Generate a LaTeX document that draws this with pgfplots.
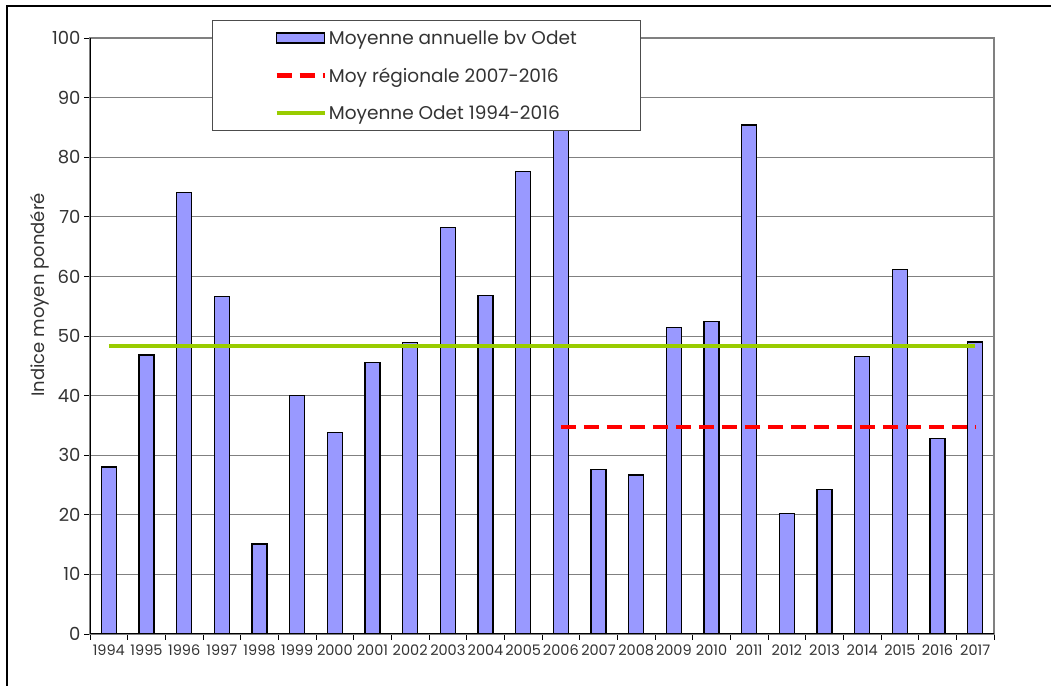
\documentclass[border=0pt]{standalone}
\usepackage{pgfplots}
\pgfplotsset{compat=1.18}
\usepackage{fontspec}
\setmainfont{Poppins}
\definecolor{barc}{HTML}{9999FF}
\definecolor{greenl}{HTML}{99CC00}
\definecolor{txt}{HTML}{333333}
\begin{document}
\begin{tikzpicture}[x=1bp,y=1bp]
\useasboundingbox (0,0) rectangle (1051,686);
\draw[black, line width=1.2bp] (7,0) -- (7,680) -- (1051,680);
\begin{axis}[
  at={(90bp,52bp)}, anchor=south west,
  scale only axis, width=904bp, height=596bp,
  xmin=-0.5, xmax=23.5, ymin=0, ymax=100,
  ytick={0,10,...,100},
  xtick={0,...,23},
  xticklabels={1994,1995,1996,1997,1998,1999,2000,2001,2002,2003,2004,2005,2006,2007,2008,2009,2010,2011,2012,2013,2014,2015,2016,2017},
  minor xtick={-0.5,0.5,...,23.5},
  major x tick style={draw=none},
  xtick pos=bottom, ytick pos=left,
  tick align=outside,
  major tick length=6bp, minor tick length=6bp,
  tick style={black, line width=0.8bp},
  ymajorgrids,
  grid style={gray, line width=0.9bp},
  axis line style={draw=gray, line width=1.2bp},
  /pgf/number format/assume math mode=true,
  yticklabel style={font=\fontsize{18bp}{20bp}\selectfont, text=txt},
  xticklabel style={font=\fontsize{14.5bp}{16bp}\selectfont, text=txt, yshift=-1bp},
  ylabel={Indice moyen pondéré},
  ylabel style={font=\fontsize{18bp}{20bp}\selectfont, text=txt,
    at={(axis description cs:-0.055,0.569)}, anchor=center},
  legend style={at={(axis description cs:0.135,1.03)}, anchor=north west,
    draw=black!70, line width=0.8bp, fill=white,
    inner xsep=62bp, inner ysep=8bp, row sep=18bp,
    font=\fontsize{18.5bp}{22bp}\selectfont, text=txt,
    legend cell align=left},
]
\addplot[ybar, bar width=15bp, fill=barc, draw=black, line width=1.3bp,
  legend image code/.code={\draw[fill=barc, draw=black, line width=1.3bp] (0bp,-5bp) rectangle (48bp,5bp);}]
  coordinates {
  (0,28.0) (1,46.8) (2,74.1) (3,56.6) (4,15.1) (5,40.0) (6,33.8) (7,45.6)
  (8,48.9) (9,68.2) (10,56.8) (11,77.6) (12,87.0) (13,27.6) (14,26.7) (15,51.4)
  (16,52.4) (17,85.4) (18,20.2) (19,24.3) (20,46.6) (21,61.2) (22,32.8) (23,49.0)};
\addlegendentry{Moyenne annuelle bv Odet}
\addplot[red, line width=4.5bp, dash pattern=on 15bp off 8bp, sharp plot,
  legend image code/.code={\draw[red, line width=4.5bp, dash pattern=on 15bp off 8bp] (0bp,0bp) -- (48bp,0bp);}]
  coordinates {(12,34.7) (23,34.7)};
\addlegendentry{Moy régionale 2007-2016}
\addplot[greenl, line width=4.5bp, sharp plot,
  legend image code/.code={\draw[greenl, line width=4.5bp] (0bp,0bp) -- (48bp,0bp);}]
  coordinates {(0,48.3) (23,48.3)};
\addlegendentry{Moyenne Odet 1994-2016}
\draw[black, line width=1.2bp] (rel axis cs:0,0) -- (rel axis cs:0,1);
\draw[black, line width=1.2bp] (rel axis cs:0,0) -- (rel axis cs:1,0);
\end{axis}
\end{tikzpicture}
\end{document}
